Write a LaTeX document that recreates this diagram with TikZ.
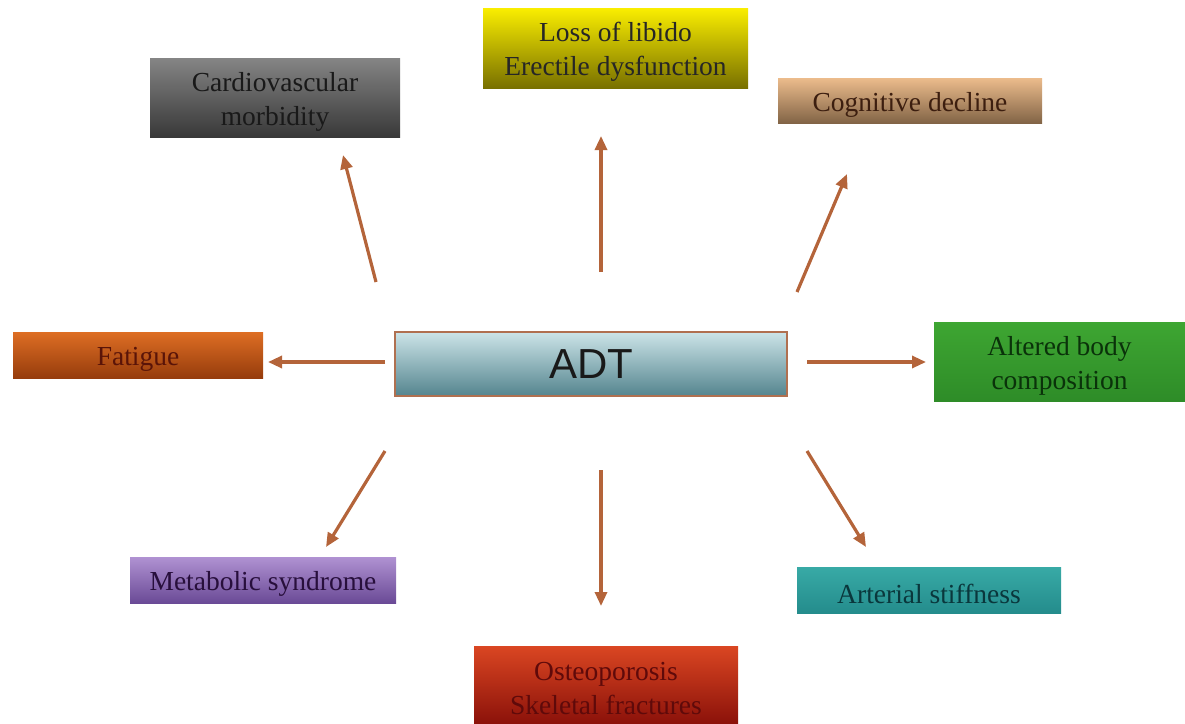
\documentclass[tikz,border=0pt]{standalone}
\usepackage{fontspec}
\setmainfont{Liberation Serif}
\newfontfamily\arialfont{Liberation Sans}
\usetikzlibrary{arrows.meta}
\definecolor{arr}{HTML}{B4643A}
\tikzset{
  box/.style={rectangle, inner sep=0pt},
  lbl/.style={inner sep=0pt, align=center, font=\fontsize{27.5}{34}\selectfont, yshift=-4pt},
  conn/.style={draw=arr, line width=3.2pt, -{Triangle[length=14pt,width=12pt]}},
}
\begin{document}
\begin{tikzpicture}[x=1pt,y=-1pt]
\useasboundingbox (0,0) rectangle (1185,723);
% boxes (centre, size)
\node[box, top color=black!48, bottom color=black!78, minimum width=250pt, minimum height=79pt, label={[lbl, text=black!90]center:Cardiovascular\\morbidity}] (cardio) at (275,97.5) {};
\node[box, top color={rgb,255:red,250;green,238;blue,0}, bottom color={rgb,255:red,120;green,112;blue,0}, minimum width=265pt, minimum height=80pt, label={[lbl, text=black!85]center:Loss of libido\\Erectile dysfunction}] (libido) at (615.5,48) {};
\node[box, top color={rgb,255:red,236;green,188;blue,140}, bottom color={rgb,255:red,130;green,100;blue,70}, minimum width=264pt, minimum height=45pt, label={[lbl, text={rgb,255:red,60;green,30;blue,15}]center:Cognitive decline}] (cognitive) at (910,100.5) {};
\node[box, top color={rgb,255:red,222;green,110;blue,36}, bottom color={rgb,255:red,150;green,60;blue,12}, minimum width=250pt, minimum height=46pt, label={[lbl, text={rgb,255:red,90;green,20;blue,8}]center:Fatigue}] (fatigue) at (138,355) {};
\node[rectangle, draw={rgb,255:red,176;green,112;blue,80}, line width=1.2pt, top color={rgb,255:red,204;green,228;blue,232}, bottom color={rgb,255:red,84;green,132;blue,142}, minimum width=392pt, minimum height=64pt, font=\arialfont\fontsize{42}{46}\selectfont, text=black!90] (adt) at (591,364) {ADT};
\node[box, top color={rgb,255:red,62;green,166;blue,50}, bottom color={rgb,255:red,46;green,140;blue,40}, minimum width=251pt, minimum height=79pt, label={[lbl, text={rgb,255:red,10;green,50;blue,10}]center:Altered body\\composition}] (body) at (1059.5,361.5) {};
\node[box, top color={rgb,255:red,176;green,146;blue,210}, bottom color={rgb,255:red,106;green,74;blue,150}, minimum width=266pt, minimum height=46pt, label={[lbl, text={rgb,255:red,40;green,15;blue,60}]center:Metabolic syndrome}] (metabolic) at (263,580) {};
\node[box, top color={rgb,255:red,56;green,170;blue,166}, bottom color={rgb,255:red,36;green,140;blue,140}, minimum width=264pt, minimum height=46pt, label={[lbl, text={rgb,255:red,10;green,55;blue,60}]center:Arterial stiffness}] (arterial) at (929,590) {};
\node[box, top color={rgb,255:red,218;green,70;blue,34}, bottom color={rgb,255:red,140;green,18;blue,10}, minimum width=264pt, minimum height=77pt, label={[lbl, text={rgb,255:red,95;green,10;blue,10}]center:Osteoporosis\\Skeletal fractures}] (osteo) at (606,684.5) {};
% arrow ends
\coordinate (s1) at (376,282); \coordinate (e1) at (343,155);
\coordinate (s2) at (601,272); \coordinate (e2) at (601,136);
\coordinate (s3) at (797,292); \coordinate (e3) at (847,174);
\coordinate (s4) at (385,362); \coordinate (e4) at (268,362);
\coordinate (s5) at (807,362); \coordinate (e5) at (926,362);
\coordinate (s6) at (385,451); \coordinate (e6) at (326,547);
\coordinate (s7) at (601,470); \coordinate (e7) at (601,606);
\coordinate (s8) at (807,451); \coordinate (e8) at (866,547);
\foreach \i in {1,...,8} {\draw[conn] (s\i) -- (e\i);}
\end{tikzpicture}
\end{document}
